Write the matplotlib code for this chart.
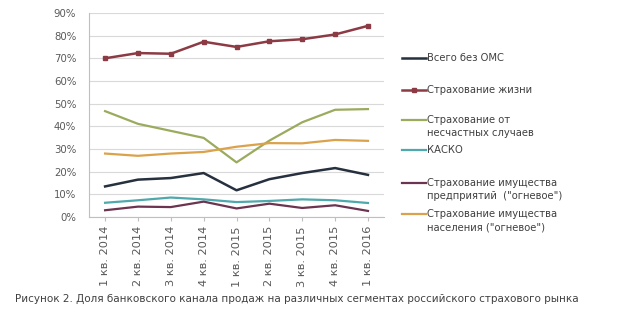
import matplotlib
matplotlib.use("Agg")
import matplotlib.pyplot as plt
from matplotlib.ticker import PercentFormatter

plt.rcParams['font.family'] = ['DejaVu Sans']

quarters = ["1 кв. 2014", "2 кв. 2014", "3 кв. 2014", "4 кв. 2014",
            "1 кв. 2015", "2 кв. 2015", "3 кв. 2015", "4 кв. 2015", "1 кв. 2016"]

total = [13.5, 16.5, 17.2, 19.4, 11.8, 16.7, 19.4, 21.6, 18.6]
life = [70, 72.3, 72, 77.3, 75, 77.5, 78.4, 80.5, 84.3]
accident = [46.7, 41.1, 38, 34.9, 24.1, 33.7, 41.8, 47.3, 47.6]
kasko = [6.3, 7.4, 8.6, 7.8, 6.6, 7.1, 7.8, 7.4, 6.2]
enterprise = [3, 4.6, 4.4, 6.8, 3.8, 5.9, 4, 5.2, 2.7]
household = [28, 27, 28, 28.7, 31, 32.6, 32.5, 34, 33.6]

labels = [["Всего без ОМС"], ["Страхование жизни"],
          ["Страхование от", "несчастных случаев"], ["КАСКО"],
          ["Страхование имущества", "предприятий  (\"огневое\")"],
          ["Страхование имущества", "населения (\"огневое\")"]]

fig = plt.figure(figsize=(6.2, 3.23), dpi=100)
ax = fig.add_axes([0.143, 0.328, 0.477, 0.632])

x = range(len(quarters))
lines = []
lines += ax.plot(x, total, color="#26303f", lw=1.8)
lines += ax.plot(x, life, color="#8c3b44", lw=1.8, marker="s", ms=3.5,
                 mfc="#8c3b44", mec="#8c3b44")
lines += ax.plot(x, accident, color="#9aab5e", lw=1.6)
lines += ax.plot(x, kasko, color="#4fa8ab", lw=1.6)
lines += ax.plot(x, enterprise, color="#6b3450", lw=1.6)
lines += ax.plot(x, household, color="#dba24c", lw=1.6)

ax.set_xlim(-0.5, len(quarters) - 0.5)
ax.set_ylim(0, 90)
ax.set_yticks(range(0, 91, 10))
ax.yaxis.set_major_formatter(PercentFormatter(decimals=0))
ax.set_xticks(list(x))
ax.set_xticklabels(quarters, rotation=90, fontsize=8.2, color="#595959")
ax.tick_params(axis='y', labelsize=7.3, colors="#595959", length=0, pad=9)
ax.tick_params(axis='x', length=3, color="#bfbfbf")
ax.grid(axis='y', color="#d9d9d9", lw=0.8)
ax.set_axisbelow(True)
for s in ["top", "right"]:
    ax.spines[s].set_visible(False)
ax.spines["left"].set_color("#bfbfbf")
ax.spines["bottom"].set_color("#bfbfbf")

# legend entries placed one by one, like the uneven Excel layout
legend_y = [58, 90, 120, 150, 183, 214]
leg_x = 0.649
for ln, lab, yy in zip(lines, labels, legend_y):
    lg = fig.legend([ln], [lab[0]], loc="center left",
                    bbox_to_anchor=(leg_x, 1 - yy / 323), frameon=False,
                    fontsize=7.2, handlelength=2.4, handletextpad=0.05,
                    borderaxespad=0, borderpad=0, labelcolor="#404040")
    if len(lab) > 1:
        fig.text(0.688, 1 - (yy + 13) / 323, lab[1], fontsize=7.2,
                 color="#404040", va="center")

fig.text(0.024, 0.065, "Рисунок 2. Доля банковского канала продаж на различных сегментах "
         "российского страхового рынка", fontsize=7.5, color="#404040")

fig.savefig("out.png", dpi=100)
